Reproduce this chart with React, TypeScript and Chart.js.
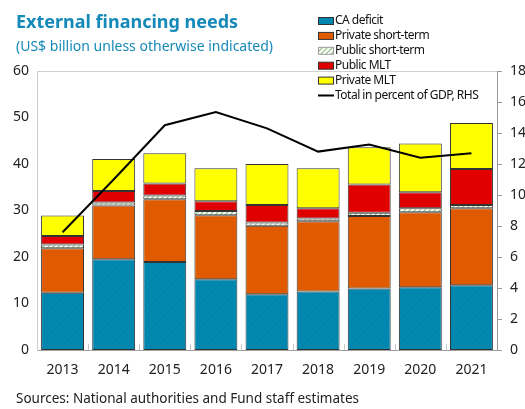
import { useEffect, useRef } from "react";
import { Chart, registerables } from "chart.js";
Chart.register(...registerables);

const years = ["2013", "2014", "2015", "2016", "2017", "2018", "2019", "2020", "2021"];
const caDeficit = [12.3, 19.5, 18.9, 15.2, 12.0, 12.6, 13.2, 13.5, 13.9];
const privateShortTerm = [9.6, 11.6, 13.5, 13.8, 14.7, 15.1, 15.6, 16.1, 16.6];
const publicShortTerm = [0.8, 0.6, 0.8, 0.9, 0.7, 0.6, 0.7, 0.9, 0.7];
const publicMLT = [1.8, 2.5, 2.6, 2.1, 3.8, 2.2, 6.1, 3.4, 7.7];
const privateMLT = [4.4, 6.9, 6.5, 7.1, 8.8, 8.6, 8.0, 10.5, 9.9];
const totalPctGDP = [7.6, 11.0, 14.5, 15.35, 14.3, 12.8, 13.25, 12.4, 12.7];

const FONT = "'Noto Sans', 'DejaVu Sans', sans-serif";
const TITLE_COLOR = "#1589b8";

function hatch(bg: string, stroke: string, lw: number, size: number) {
  const c = document.createElement("canvas");
  c.width = size;
  c.height = size;
  const x = c.getContext("2d")!;
  x.fillStyle = bg;
  x.fillRect(0, 0, size, size);
  x.strokeStyle = stroke;
  x.lineWidth = lw;
  x.beginPath();
  x.moveTo(0, size);
  x.lineTo(size, 0);
  x.moveTo(-1, 1);
  x.lineTo(1, -1);
  x.moveTo(size - 1, size + 1);
  x.lineTo(size + 1, size - 1);
  x.stroke();
  return x.createPattern(c, "repeat")!;
}

export default function App() {
  const ref = useRef<HTMLCanvasElement>(null);
  useEffect(() => {
    const canvas = ref.current!;
    const ctx = canvas.getContext("2d")!;
    const caPat = hatch("#0088b0", "rgba(0,70,100,0.12)", 1, 6);
    const pubStPat = hatch("#ffffff", "#8fbf7a", 1.2, 5);

    const legendItems = [
      { label: "CA deficit", fill: caPat as any, type: "box" },
      { label: "Private short-term", fill: "#e05a00", type: "box" },
      { label: "Public short-term", fill: pubStPat as any, type: "box", border: "#999" },
      { label: "Public MLT", fill: "#e00000", type: "box" },
      { label: "Private MLT", fill: "#ffff00", type: "box" },
      { label: "Total in percent of GDP, RHS", fill: "#000", type: "line" },
    ];

    const frame = {
      id: "frame",
      beforeDatasetsDraw(chart: any) {
        const { ctx: c, chartArea: a, scales } = chart;
        c.save();
        c.strokeStyle = "#d0d0d0";
        c.lineWidth = 1;
        c.beginPath();
        c.moveTo(a.left, a.top + 0.5);
        c.lineTo(a.right, a.top + 0.5);
        c.stroke();
        const xs = scales.x;
        const w = (a.right - a.left) / years.length;
        c.strokeStyle = "#c8c8c8";
        c.beginPath();
        for (let i = 1; i < years.length; i++) {
          const px = Math.round(xs.getPixelForValue(i) - w / 2) + 0.5;
          c.moveTo(px, a.bottom);
          c.lineTo(px, a.bottom - 6);
        }
        c.stroke();
        c.restore();
      },
      afterDraw(chart: any) {
        const c = chart.ctx;
        c.save();
        c.font = `12px ${FONT}`;
        try {
          (c as any).letterSpacing = "-0.5px";
        } catch (e) {}
        c.textBaseline = "middle";
        c.fillStyle = "#111";
        legendItems.forEach((it, i) => {
          const y = 21 + i * 14.9;
          if (it.type === "box") {
            c.fillStyle = it.fill;
            c.fillRect(318, y - 3.5, 15, 7);
            c.strokeStyle = (it as any).border || "#333";
            c.lineWidth = 1;
            c.strokeRect(318.5, y - 3.5, 15, 7);
          } else {
            c.strokeStyle = "#000";
            c.lineWidth = 2;
            c.beginPath();
            c.moveTo(318, y);
            c.lineTo(334, y);
            c.stroke();
          }
          c.fillStyle = "#111";
          c.fillText(it.label, 335, y);
        });
        c.restore();
      },
    };

    const barCommon = {
      type: "bar" as const,
      borderColor: "#333",
      borderWidth: 1,
      borderSkipped: false,
      barPercentage: 0.84,
      categoryPercentage: 1,
      yAxisID: "y",
      order: 1,
    };

    const chart = new Chart(ctx, {
      type: "bar",
      data: {
        labels: years,
        datasets: [
          { ...barCommon, label: "CA deficit", data: caDeficit, backgroundColor: caPat as any },
          { ...barCommon, label: "Private short-term", data: privateShortTerm, backgroundColor: "#e05a00" },
          { ...barCommon, label: "Public short-term", data: publicShortTerm, backgroundColor: pubStPat as any },
          { ...barCommon, label: "Public MLT", data: publicMLT, backgroundColor: "#e00000" },
          { ...barCommon, label: "Private MLT", data: privateMLT, backgroundColor: "#ffff00" },
          {
            type: "line" as const,
            label: "Total in percent of GDP, RHS",
            data: totalPctGDP,
            borderColor: "#000",
            borderWidth: 2,
            pointRadius: 0,
            tension: 0,
            yAxisID: "y2",
            order: 0,
          } as any,
        ],
      },
      options: {
        responsive: false,
        maintainAspectRatio: false,
        animation: false,
        layout: { padding: { top: 71, left: 0, right: 0, bottom: 0 } },
        plugins: { legend: { display: false }, tooltip: { enabled: false }, title: { display: false } },
        scales: {
          x: {
            stacked: true,
            offset: true,
            grid: { display: false, drawTicks: false },
            border: { display: true, color: "#a0a0a0", width: 1 },
            ticks: { color: "#222", font: { family: FONT, size: 14 }, padding: 12, maxRotation: 0 },
            afterFit: (s: any) => {
              s.height = 59;
            },
          },
          y: {
            stacked: true,
            min: 0,
            max: 60,
            grid: { display: false, drawTicks: false },
            border: { display: true, color: "#cccccc" },
            ticks: { stepSize: 10, color: "#222", font: { family: FONT, size: 14 }, padding: 8 },
            afterFit: (s: any) => {
              s.width = 37;
            },
          },
          y2: {
            position: "right",
            min: 0,
            max: 18,
            grid: { display: true, drawOnChartArea: false, drawTicks: true, tickLength: 5, color: "#999" },
            border: { display: true, color: "#999" },
            ticks: { stepSize: 2, color: "#222", font: { family: FONT, size: 14 }, padding: 8 },
            afterFit: (s: any) => {
              s.width = 28;
            },
          },
        },
      },
      plugins: [frame],
    });
    return () => chart.destroy();
  }, []);

  return (
    <div style={{ position: "fixed", left: 0, top: 0, width: 525, height: 409, background: "#fff", overflow: "hidden" }}>
      <canvas ref={ref} width={525} height={409} style={{ position: "absolute", left: 0, top: 0 }} />
      <div
        style={{
          position: "absolute",
          left: 16,
          top: 9,
          fontFamily: FONT,
          fontWeight: 700,
          fontSize: 18,
          color: TITLE_COLOR,
          whiteSpace: "nowrap",
          lineHeight: "24px",
        }}
      >
        External financing needs
      </div>
      <div
        style={{
          position: "absolute",
          left: 16,
          top: 36,
          fontFamily: FONT,
          fontSize: 14,
          color: TITLE_COLOR,
          whiteSpace: "nowrap",
          lineHeight: "20px",
        }}
      >
        (US$ billion unless otherwise indicated)
      </div>
      <div
        style={{
          position: "absolute",
          left: 16,
          top: 388,
          fontFamily: FONT,
          fontSize: 13.5,
          color: "#222",
          whiteSpace: "nowrap",
          lineHeight: "20px",
        }}
      >
        Sources: National authorities and Fund staff estimates
      </div>
    </div>
  );
}
